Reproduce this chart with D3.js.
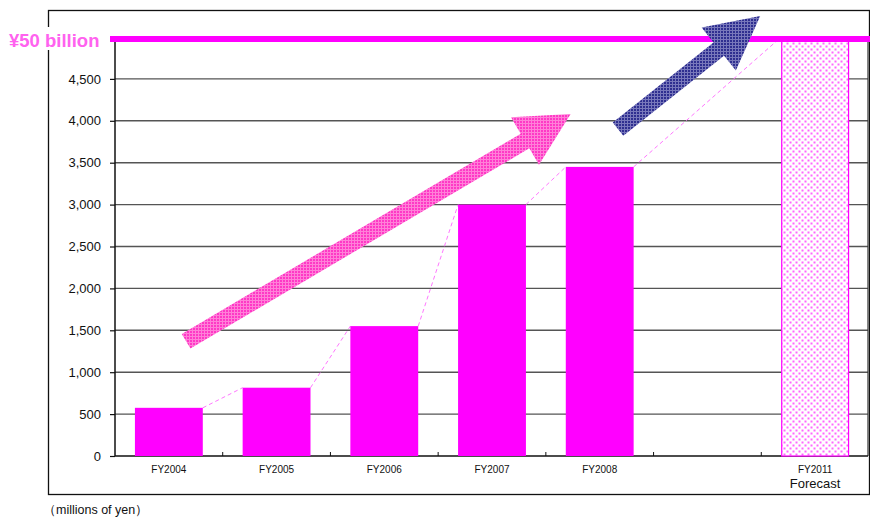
<!DOCTYPE html>
<html>
<head>
<meta charset="utf-8">
<script src="https://cdn.jsdelivr.net/npm/d3@7"></script>
<style>
  body { margin: 0; background: #fff; }
  svg { display: block; font-family: "Liberation Sans", Arial, sans-serif; }
</style>
</head>
<body>
<div id="chart"></div>
<script>
// fiscal years (one empty slot between FY2008 and the forecast)
var slots = ["FY2004", "FY2005", "FY2006", "FY2007", "FY2008", "gap", "FY2011"];
var years = ["FY2004", "FY2005", "FY2006", "FY2007", "FY2008"];
var sales = [575, 815, 1550, 3000, 3450];
var forecastYear = "FY2011";
var forecastValue = 5000;
var yTicks = [0, 500, 1000, 1500, 2000, 2500, 3000, 3500, 4000, 4500];
var targetLabel = "¥50 billion";
var unitLabel = "（millions of yen）";

// trend arrows: [slot position, value] for tail and tip
var pinkArrow = [[0.66, 1370], [4.23, 4080]];
var blueArrow = [[4.67, 3900], [5.99, 5250]];

var W = 870, H = 517;
var svg = d3.select("#chart").append("svg")
    .attr("width", W)
    .attr("height", H);

var plotLeft = 115, plotRight = 868, plotTop = 37, plotBottom = 456;

var xScale = d3.scaleBand()
    .domain(slots)
    .range([plotLeft, plotRight + 1])
    .paddingInner(0.37)
    .paddingOuter(0.185);

var yScale = d3.scaleLinear()
    .domain([0, forecastValue])
    .range([plotBottom, plotTop]);

// continuous position along the category axis
function slotX(t) { return plotLeft + t * xScale.step(); }

// patterns
var defs = svg.append("defs");

var dots = defs.append("pattern")
    .attr("id", "dots")
    .attr("patternUnits", "userSpaceOnUse")
    .attr("width", 6).attr("height", 6);
dots.append("rect").attr("width", 6).attr("height", 6).attr("fill", "#fff");
dots.append("rect").attr("x", 0.5).attr("y", 0.5).attr("width", 2).attr("height", 2).attr("fill", "#ff66ff");
dots.append("rect").attr("x", 3.5).attr("y", 3.5).attr("width", 2).attr("height", 2).attr("fill", "#ff66ff");

function hatch(id, base, line) {
    var p = defs.append("pattern")
        .attr("id", id)
        .attr("patternUnits", "userSpaceOnUse")
        .attr("width", 3).attr("height", 3);
    p.append("rect").attr("width", 3).attr("height", 3).attr("fill", base);
    p.append("rect").attr("width", 3).attr("height", 1).attr("fill", line);
    p.append("rect").attr("width", 1).attr("height", 3).attr("fill", line);
}
hatch("pinkHatch", "#ff38c6", "#ff80d8");
hatch("blueHatch", "#2f2f90", "#7878bb");

// outer frame
svg.append("rect")
    .attr("x", 48.5).attr("y", 10.5)
    .attr("width", 821).attr("height", 484)
    .attr("fill", "none")
    .attr("stroke", "#111")
    .attr("stroke-width", 1.3);

// gridlines
svg.append("g").selectAll("line")
    .data(yTicks.filter(function (d) { return d > 0; }))
    .enter().append("line")
    .attr("x1", plotLeft).attr("x2", plotRight)
    .attr("y1", function (d) { return yScale(d); })
    .attr("y2", function (d) { return yScale(d); })
    .attr("stroke", "#555")
    .attr("stroke-width", 1.4);

// right edge of plot
svg.append("line")
    .attr("x1", plotRight).attr("x2", plotRight)
    .attr("y1", plotTop).attr("y2", plotBottom)
    .attr("stroke", "#333").attr("stroke-width", 1.2);

// y axis
var yAxis = svg.append("g")
    .attr("transform", "translate(" + plotLeft + ",0)")
    .call(d3.axisLeft(yScale)
        .tickValues(yTicks)
        .tickSize(5)
        .tickPadding(9)
        .tickFormat(d3.format(",")));
yAxis.select(".domain").remove();
yAxis.selectAll("line").attr("stroke", "#111").attr("stroke-width", 1.2);
yAxis.selectAll("text")
    .attr("font-size", 13)
    .attr("fill", "#111")
    .style("font-family", "'Liberation Sans', Arial, sans-serif");

svg.append("line")
    .attr("x1", plotLeft).attr("x2", plotLeft)
    .attr("y1", plotTop).attr("y2", plotBottom)
    .attr("stroke", "#111").attr("stroke-width", 1.5);
svg.append("line")
    .attr("x1", plotLeft).attr("x2", plotRight)
    .attr("y1", plotBottom).attr("y2", plotBottom)
    .attr("stroke", "#111").attr("stroke-width", 1.5);

// small inner ticks between categories
svg.append("g").selectAll("line")
    .data(d3.range(1, slots.length))
    .enter().append("line")
    .attr("x1", function (k) { return slotX(k); })
    .attr("x2", function (k) { return slotX(k); })
    .attr("y1", plotBottom - 4).attr("y2", plotBottom)
    .attr("stroke", "#111");

// dashed connectors between bar tops
var tops = years.map(function (y, i) { return { name: y, value: sales[i] }; });
tops.push({ name: forecastYear, value: forecastValue });
var links = d3.pairs(tops);
svg.append("g").selectAll("line")
    .data(links)
    .enter().append("line")
    .attr("x1", function (d) { return xScale(d[0].name) + xScale.bandwidth(); })
    .attr("y1", function (d) { return yScale(d[0].value); })
    .attr("x2", function (d) { return xScale(d[1].name); })
    .attr("y2", function (d) { return yScale(d[1].value); })
    .attr("stroke", "#ff77ff")
    .attr("stroke-width", 1)
    .attr("stroke-dasharray", "4,3");

// actual bars
svg.append("g").selectAll("rect")
    .data(tops.slice(0, years.length))
    .enter().append("rect")
    .attr("x", function (d) { return xScale(d.name); })
    .attr("y", function (d) { return yScale(d.value); })
    .attr("width", xScale.bandwidth())
    .attr("height", function (d) { return plotBottom - yScale(d.value); })
    .attr("fill", "#ff00ff");

// forecast bar
svg.append("rect")
    .attr("x", xScale(forecastYear) + 0.5)
    .attr("y", yScale(forecastValue))
    .attr("width", xScale.bandwidth() - 1)
    .attr("height", plotBottom - yScale(forecastValue))
    .attr("fill", "url(#dots)")
    .attr("stroke", "#ff00ff")
    .attr("stroke-width", 1.2);

// target line
svg.append("line")
    .attr("x1", plotLeft - 5).attr("x2", W)
    .attr("y1", yScale(forecastValue) + 2).attr("y2", yScale(forecastValue) + 2)
    .attr("stroke", "#ff00ff")
    .attr("stroke-width", 6);

svg.append("rect")
    .attr("x", 4).attr("y", 27)
    .attr("width", 101).attr("height", 23)
    .attr("fill", "#fff");
svg.append("text")
    .attr("x", 9).attr("y", 46.5)
    .attr("font-size", 18.5)
    .attr("font-weight", "bold")
    .attr("fill", "#ff62ef")
    .text(targetLabel);

// trend arrows
function arrowPath(a) {
    var tx = slotX(a[0][0]), ty = yScale(a[0][1]);
    var px = slotX(a[1][0]), py = yScale(a[1][1]);
    var len = Math.hypot(px - tx, py - ty);
    var ux = (px - tx) / len, uy = (py - ty) / len;
    var nx = -uy, ny = ux;
    var w = 8.5, h = 27.5, L = 53;
    var bx = px - ux * L, by = py - uy * L;
    var pts = [
        [tx + nx * w, ty + ny * w],
        [bx + nx * w, by + ny * w],
        [bx + nx * h, by + ny * h],
        [px, py],
        [bx - nx * h, by - ny * h],
        [bx - nx * w, by - ny * w],
        [tx - nx * w, ty - ny * w]
    ];
    return d3.line()(pts) + "Z";
}
svg.append("path").attr("d", arrowPath(pinkArrow)).attr("fill", "url(#pinkHatch)");
svg.append("path").attr("d", arrowPath(blueArrow)).attr("fill", "url(#blueHatch)");

// category labels
svg.append("g").selectAll("text")
    .data(years.concat([forecastYear]))
    .enter().append("text")
    .attr("x", function (d) { return xScale(d) + xScale.bandwidth() / 2; })
    .attr("y", 473)
    .attr("text-anchor", "middle")
    .attr("font-size", 10)
    .attr("fill", "#111")
    .text(function (d) { return d; });
svg.append("text")
    .attr("x", xScale(forecastYear) + xScale.bandwidth() / 2)
    .attr("y", 488)
    .attr("text-anchor", "middle")
    .attr("font-size", 13)
    .attr("fill", "#111")
    .text("Forecast");

svg.append("text")
    .attr("x", 43).attr("y", 514)
    .attr("font-size", 12.5)
    .attr("fill", "#111")
    .text(unitLabel);
</script>
</body>
</html>
